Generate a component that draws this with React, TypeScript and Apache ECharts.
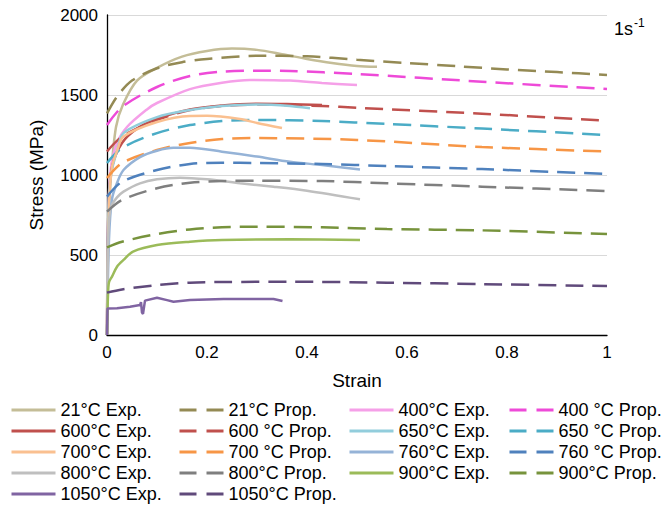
import React, { useEffect, useRef } from "react";
import * as echarts from "echarts";

const FONT = "'Liberation Sans', Arial, sans-serif";

const xTicks = [0, 0.2, 0.4, 0.6, 0.8, 1];
const yTicks = [0, 500, 1000, 1500, 2000];

const exp21 = [[0,0],[0.003,700],[0.008,1000],[0.018,1300],[0.032,1440],[0.06,1590],[0.1,1670],[0.15,1740],[0.2,1775],[0.25,1790],[0.3,1782],[0.35,1755],[0.4,1725],[0.45,1700],[0.5,1682],[0.54,1677]];
const prop21 = [[0,1385],[0.02,1490],[0.05,1590],[0.1,1667],[0.15,1705],[0.2,1725],[0.3,1745],[0.4,1742],[0.5,1720],[0.6,1700],[0.7,1680],[0.8,1660],[0.9,1643],[1,1625]];
const exp400 = [[0,0],[0.003,800],[0.008,1050],[0.02,1200],[0.04,1300],[0.08,1410],[0.1,1450],[0.166,1537],[0.23,1577],[0.286,1594],[0.366,1590],[0.43,1575],[0.5,1562]];
const prop400 = [[0,1312],[0.03,1425],[0.1,1550],[0.166,1619],[0.23,1646],[0.3,1652],[0.366,1650],[0.5,1631],[0.75,1583],[1,1537]];
const exp600 = [[0,0],[0.003,800],[0.01,1050],[0.03,1200],[0.06,1290],[0.1,1350],[0.166,1410],[0.23,1435],[0.3,1445],[0.36,1443],[0.43,1438]];
const prop600 = [[0,1147],[0.03,1240],[0.1,1344],[0.166,1406],[0.23,1431],[0.3,1440],[0.43,1431],[0.5,1420],[0.75,1383],[1,1340]];
const exp650 = [[0,0],[0.003,800],[0.008,1000],[0.02,1150],[0.033,1262],[0.1,1362],[0.166,1406],[0.23,1431],[0.3,1440],[0.366,1431],[0.406,1417]];
const prop650 = [[0,1075],[0.03,1169],[0.1,1262],[0.166,1312],[0.23,1337],[0.3,1344],[0.43,1337],[0.56,1319],[0.75,1290],[1,1250]];
const exp700 = [[0,0],[0.004,800],[0.01,1050],[0.02,1150],[0.033,1240],[0.1,1331],[0.166,1369],[0.2,1370],[0.266,1350],[0.3,1325],[0.35,1294]];
const prop700 = [[0,981],[0.03,1075],[0.1,1156],[0.166,1200],[0.23,1225],[0.3,1231],[0.5,1219],[0.75,1175],[1,1147]];
const exp760 = [[0,0],[0.004,600],[0.01,850],[0.02,950],[0.033,1031],[0.066,1112],[0.1,1152],[0.133,1170],[0.166,1170],[0.23,1146],[0.3,1115],[0.366,1083],[0.43,1062],[0.506,1035]];
const prop760 = [[0,865],[0.03,958],[0.1,1031],[0.166,1069],[0.23,1077],[0.3,1075],[0.43,1069],[0.56,1056],[0.75,1037],[1,1006]];
const exp800 = [[0,0],[0.003,650],[0.008,800],[0.02,860],[0.033,896],[0.066,948],[0.1,973],[0.146,983],[0.2,973],[0.266,948],[0.333,927],[0.4,902],[0.506,848]];
const prop800 = [[0,771],[0.03,844],[0.1,917],[0.166,952],[0.23,962],[0.3,964],[0.43,962],[0.56,948],[0.75,927],[1,900]];
const exp900 = [[0,0],[0.002,250],[0.004,330],[0.01,365],[0.02,427],[0.033,469],[0.052,521],[0.1,562],[0.166,583],[0.23,594],[0.366,598],[0.506,594]];
const prop900 = [[0,548],[0.03,583],[0.1,631],[0.166,660],[0.23,673],[0.3,677],[0.43,673],[0.56,662],[0.75,654],[1,631]];
const exp1050 = [[0,0],[0.001,165],[0.02,167],[0.046,177],[0.066,187],[0.068,205],[0.07,140],[0.072,132],[0.076,215],[0.1,233],[0.12,218],[0.133,208],[0.166,219],[0.233,225],[0.333,225],[0.351,212]];
const prop1050 = [[0,265],[0.03,285],[0.1,312],[0.166,327],[0.23,331],[0.366,333],[0.56,327],[0.75,318],[1,306]];

type S = { name: string; data: number[][]; color: string; dashed: boolean; smooth?: boolean };

const seriesDefs: S[] = [
  { name: "21°C Exp.", data: exp21, color: "#C4BD97", dashed: false },
  { name: "21°C Prop.", data: prop21, color: "#948A54", dashed: true },
  { name: "400°C Exp.", data: exp400, color: "#F5A0E8", dashed: false },
  { name: "400 °C Prop.", data: prop400, color: "#EE4AD8", dashed: true },
  { name: "600°C Exp.", data: exp600, color: "#C0504D", dashed: false },
  { name: "600 °C Prop.", data: prop600, color: "#C0504D", dashed: true },
  { name: "650°C Exp.", data: exp650, color: "#92CDDC", dashed: false },
  { name: "650 °C Prop.", data: prop650, color: "#4BACC6", dashed: true },
  { name: "700°C Exp.", data: exp700, color: "#FAC090", dashed: false },
  { name: "700 °C Prop.", data: prop700, color: "#F79646", dashed: true },
  { name: "760°C Exp.", data: exp760, color: "#95B3D7", dashed: false },
  { name: "760 °C Prop.", data: prop760, color: "#4F81BD", dashed: true },
  { name: "800°C Exp.", data: exp800, color: "#BFBFBF", dashed: false },
  { name: "800°C Prop.", data: prop800, color: "#7F7F7F", dashed: true },
  { name: "900°C Exp.", data: exp900, color: "#9BBB59", dashed: false },
  { name: "900°C Prop.", data: prop900, color: "#77933C", dashed: true },
  { name: "1050°C Exp.", data: exp1050, color: "#8064A2", dashed: false, smooth: false },
  { name: "1050°C Prop.", data: prop1050, color: "#604A7B", dashed: true },
];

const legendCols = [
  ["21°C Exp.", "600°C Exp.", "700°C Exp.", "800°C Exp.", "1050°C Exp."],
  ["21°C Prop.", "600 °C Prop.", "700 °C Prop.", "800°C Prop.", "1050°C Prop."],
  ["400°C Exp.", "650°C Exp.", "760°C Exp.", "900°C Exp."],
  ["400 °C Prop.", "650 °C Prop.", "760 °C Prop.", "900°C Prop."],
];
const legendLeft = [10, 178, 348, 508];

export default function App() {
  const ref = useRef<HTMLDivElement>(null);
  useEffect(() => {
    const chart = echarts.init(ref.current!, null, { renderer: "svg" });
    const byName: Record<string, S> = {};
    seriesDefs.forEach((s) => (byName[s.name] = s));
    chart.setOption({
      animation: false,
      backgroundColor: "#fff",
      textStyle: { fontFamily: FONT },
      grid: { left: 107, right: 64, top: 15, bottom: 174, containLabel: false },
      xAxis: {
        type: "value",
        min: xTicks[0],
        max: xTicks[xTicks.length - 1],
        interval: 0.2,
        name: "Strain",
        nameLocation: "middle",
        nameGap: 36,
        nameTextStyle: { fontSize: 19, color: "#000", fontFamily: FONT },
        axisLine: { lineStyle: { color: "#000", width: 1.3 } },
        axisTick: { show: false },
        splitLine: { show: false },
        axisLabel: { fontSize: 17, color: "#000", fontFamily: FONT, margin: 9, formatter: (v: number) => String(v) },
      },
      yAxis: {
        type: "value",
        min: yTicks[0],
        max: yTicks[yTicks.length - 1],
        interval: 500,
        name: "Stress (MPa)",
        nameLocation: "middle",
        nameGap: 61,
        nameTextStyle: { fontSize: 19, color: "#000", fontFamily: FONT },
        axisLine: { show: true, lineStyle: { color: "#000", width: 1.3 } },
        axisTick: { show: false },
        splitLine: { lineStyle: { color: "#D9D9D9", width: 1 } },
        axisLabel: { fontSize: 17, color: "#000", fontFamily: FONT, margin: 9, formatter: (v: number) => String(v) },
      },
      legend: legendCols.map((col, i) => ({
        data: col.map((n) => ({
          name: n,
          itemStyle: { opacity: 0 },
          lineStyle: { color: byName[n].color, width: 3, type: byName[n].dashed ? [17, 10] : "solid" },
        })),
        orient: "vertical",
        left: legendLeft[i],
        top: 401,
        height: 108,
        padding: 0,
        itemWidth: 44,
        itemHeight: 14,
        itemGap: 3,
        itemStyle: { opacity: 0 },
        textStyle: { fontSize: 18, lineHeight: 18, color: "#000", fontFamily: FONT },
        selectedMode: false,
      })),
      graphic: [
        { type: "text", left: 614, top: 20, style: { text: "1s", fontSize: 18, fill: "#000", fontFamily: FONT } },
        { type: "text", left: 634, top: 17, style: { text: "-1", fontSize: 12, fill: "#000", fontFamily: FONT } },
      ],
      series: seriesDefs.map((s) => ({
        name: s.name,
        type: "line",
        data: s.data,
        symbol: "none",
        smooth: s.smooth === false ? false : 0.3,
        color: s.color,
        lineStyle: { color: s.color, width: 2.5, type: s.dashed ? [18, 9] : "solid" },
      })),
    });
    return () => chart.dispose();
  }, []);
  return <div ref={ref} style={{ width: 671, height: 509, position: "absolute", left: 0, top: 0 }} />;
}
